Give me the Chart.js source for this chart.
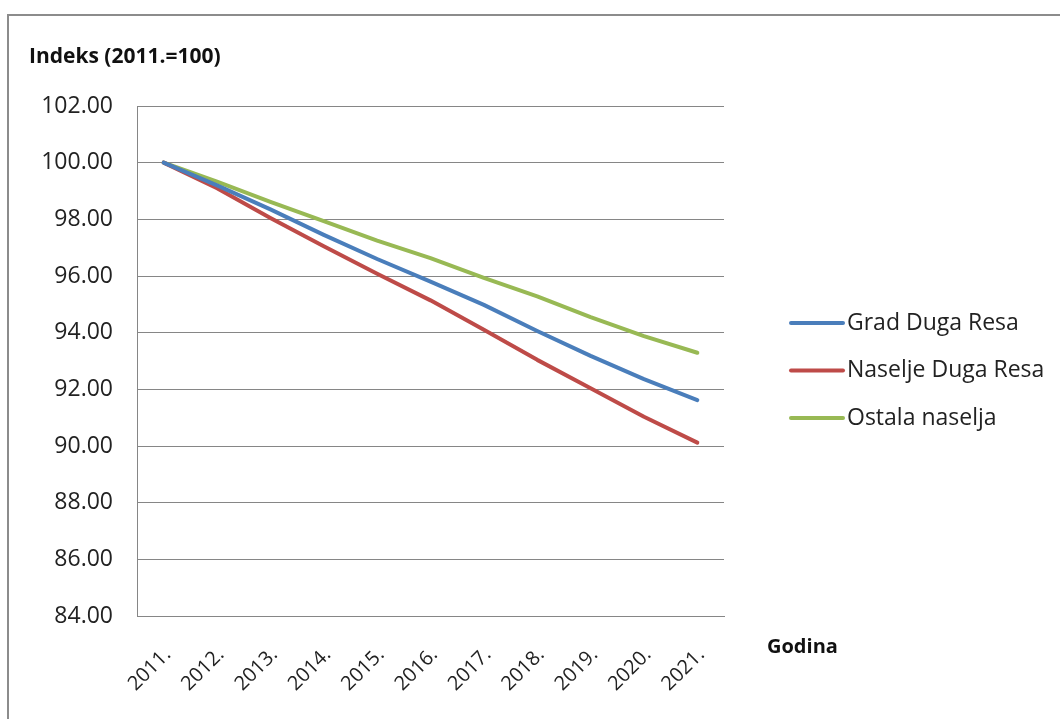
<!DOCTYPE html>
<html>
<head>
<meta charset="utf-8">
<script src="https://cdn.jsdelivr.net/npm/chart.js@4/dist/chart.umd.min.js"></script>
<style>
  html, body { margin: 0; padding: 0; background: #fff; }
  #wrap { position: relative; width: 1060px; height: 719px; overflow: hidden; }
  #frame { position: absolute; left: 7px; top: 14px; width: 1100px; height: 800px;
           border-left: 2px solid #8c8c8c; border-top: 2px solid #8c8c8c; }
  canvas { position: absolute; left: 0; top: 0; }
</style>
</head>
<body>
<div id="wrap">
  <div id="frame"></div>
  <canvas id="indeksChart" width="1060" height="719"></canvas>
</div>
<script>
var godine = ["2011.", "2012.", "2013.", "2014.", "2015.", "2016.", "2017.", "2018.", "2019.", "2020.", "2021."];
var gradDugaResa = [100, 99.2, 98.35, 97.45, 96.6, 95.8, 94.98, 94.06, 93.18, 92.36, 91.62];
var naseljeDugaResa = [100, 99.1, 98.05, 97.05, 96.08, 95.14, 94.1, 93.04, 92.04, 91.03, 90.12];
var ostalaNaselja = [100, 99.33, 98.62, 97.94, 97.25, 96.63, 95.93, 95.28, 94.55, 93.88, 93.29];
var yMin = 84, yMax = 102, yStep = 2;

var yFont = { family: "'Open Sans', sans-serif", size: 23 };
var xFont = { family: "'Open Sans', sans-serif", size: 20 };

// naslovi osi i legenda desno
var tekstovi = {
  id: "tekstovi",
  afterDraw: function (chart) {
    var ctx = chart.ctx;
    ctx.save();
    ctx.fillStyle = "#111";
    ctx.textBaseline = "middle";
    ctx.textAlign = "left";
    ctx.font = "bold 21px 'Open Sans', sans-serif";
    ctx.fillText("Indeks (2011.=100)", 29, 57);
    ctx.font = "bold 20px 'Open Sans', sans-serif";
    ctx.fillText("Godina", 767, 647);

    ctx.font = "23px 'Open Sans', sans-serif";
    chart.data.datasets.forEach(function (ds, i) {
      var y = 323 + i * 47.5;
      ctx.strokeStyle = ds.borderColor;
      ctx.lineWidth = 4;
      ctx.lineCap = "round";
      ctx.beginPath();
      ctx.moveTo(791, y);
      ctx.lineTo(843, y);
      ctx.stroke();
      ctx.fillStyle = "#222";
      ctx.fillText(ds.label, 847, y);
    });
    ctx.restore();
  }
};

new Chart("indeksChart", {
  type: "line",
  data: {
    labels: godine,
    datasets: [{
      label: "Grad Duga Resa",
      data: gradDugaResa,
      borderColor: "#4a7ebb"
    }, {
      label: "Naselje Duga Resa",
      data: naseljeDugaResa,
      borderColor: "#be4b48"
    }, {
      label: "Ostala naselja",
      data: ostalaNaselja,
      borderColor: "#98b954"
    }]
  },
  options: {
    responsive: false,
    animation: false,
    layout: { padding: { left: 0, top: 106, right: 336, bottom: 0 } },
    elements: {
      line: { borderWidth: 4, tension: 0, borderCapStyle: "round", borderJoinStyle: "round" },
      point: { radius: 0, hoverRadius: 0 }
    },
    plugins: {
      legend: { display: false },
      tooltip: { enabled: false }
    },
    scales: {
      x: {
        offset: true,
        grid: { display: false, drawTicks: false },
        border: { color: "#868686", width: 1 },
        ticks: {
          font: xFont, color: "#222",
          maxRotation: 45, minRotation: 45,
          padding: 27, labelOffset: 4, autoSkip: false
        },
        afterFit: function (scale) { scale.height = 103; }
      },
      y: {
        min: yMin, max: yMax,
        grid: { color: "#868686", lineWidth: 1, drawTicks: false },
        border: { color: "#868686", width: 1 },
        ticks: {
          stepSize: yStep, font: yFont, color: "#222", padding: 24,
          callback: function (v) { return v.toFixed(2); }
        },
        afterFit: function (scale) { scale.width = 137; }
      }
    }
  },
  plugins: [tekstovi]
});
</script>
</body>
</html>
